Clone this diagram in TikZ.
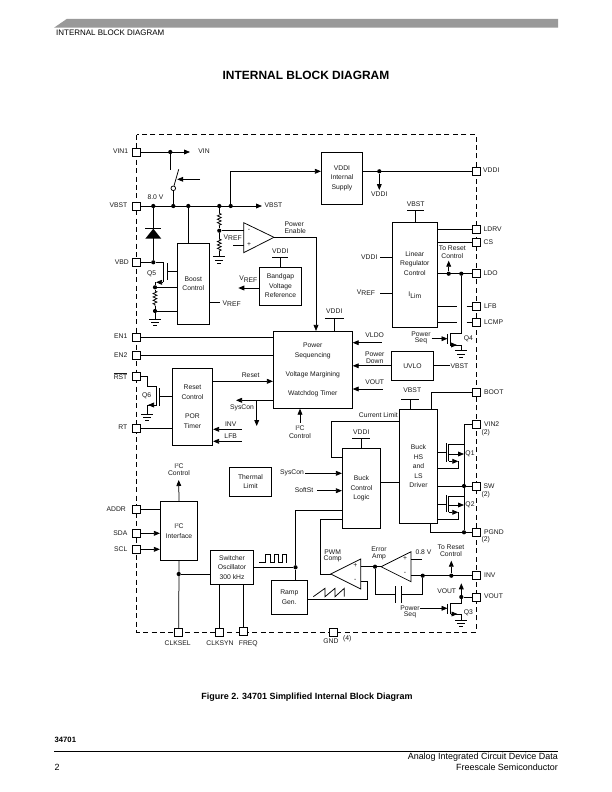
\documentclass[tikz,border=0pt]{standalone}
\usepackage{fontspec}
\setmainfont{Liberation Sans}
\usetikzlibrary{arrows.meta,decorations.pathmorphing}
\newcounter{tn}
\newcommand\fs{\fontsize{6.8}{9.6}\selectfont}
\newcommand\VREF{V\raisebox{-1.6bp}{REF}}
\newcommand\ILim{I\raisebox{-1.6bp}{Lim}}
\newcommand\Isq{I\raisebox{2bp}{\fontsize{4.2}{4.2}\selectfont 2}C}
\newcommand\Tx[4][center]{\stepcounter{tn}\node[lbl,anchor=#1] (t\thetn) at (#2,#3) {#4};}
\newcommand\Pin[3]{\node[pinbox] (#1) at (#2,#3) {};}
\newcommand\Dt[3]{\node[jdot] (#1) at (#2,#3) {};}
\newcommand\Cc[3]{\coordinate (#1) at (#2,#3);}
\newcommand\Blk[6]{\pgfmathsetmacro\bw{#4-#2}\pgfmathsetmacro\bh{#5-#3}%
  \node[blk,minimum width=\bw bp,minimum height=\bh bp] (#1) at ({(#2+#4)/2},{(#3+#5)/2}) {#6};}
\newcommand\Gnd[3]{\coordinate (#1) at (#2,#3);
  \draw[wire] ([xshift=-6bp]#1) -- ([xshift=6bp]#1);
  \draw[wire] ([xshift=-4bp,yshift=-3.2bp]#1) -- ([xshift=4bp,yshift=-3.2bp]#1);
  \draw[wire] ([xshift=-2bp,yshift=-6.4bp]#1) -- ([xshift=2bp,yshift=-6.4bp]#1);}
\newcommand\Bar[4]{\coordinate (#1) at (#2,#3);
  \draw[wire] ([xshift=-#4 bp]#1) -- ([xshift=#4 bp]#1);}
\tikzset{
  wire/.style={draw=black,line width=0.75bp,line cap=butt},
  arr/.style={wire,-{Triangle[length=6bp,width=4.8bp]}},
  blk/.style={draw=black,line width=0.75bp,fill=white,inner sep=0pt,align=center,font=\fs,text=black!90},
  lbl/.style={inner sep=0pt,font=\fs,align=center,text=black!90},
  pinbox/.style={draw=black,line width=0.75bp,fill=white,minimum size=8bp,inner sep=0pt},
  jdot/.style={circle,fill=black,inner sep=0pt,minimum size=4.2bp},
  res/.style={wire,decorate,decoration={zigzag,segment length=3.4bp,amplitude=1.9bp}},
}
\begin{document}
\begin{tikzpicture}[x=1bp,y=-1bp]
\useasboundingbox (0,0) rectangle (612,792);
\fill[white] (0,0) rectangle (612,792);
% page furniture
\coordinate (bA) at (54,27.7);\coordinate (bB) at (66.7,19);\coordinate (bC) at (558,19);\coordinate (bD) at (558,27.7);
\fill[black!40] (bA) -- (bB) -- (bC) -- (bD) -- cycle;
\node[inner sep=0pt,anchor=west,font=\fontsize{8}{9}\selectfont] (hdr) at (56,33) {INTERNAL BLOCK DIAGRAM};
\node[inner sep=0pt,font=\bfseries\fontsize{12}{14}\selectfont] (title) at (306,75) {INTERNAL BLOCK DIAGRAM};
\node[inner sep=0pt,font=\bfseries\fontsize{9}{10}\selectfont] (cap) at (307,697) {Figure 2. 34701 Simplified Internal Block Diagram};
\node[inner sep=0pt,anchor=west,font=\bfseries\fontsize{7.7}{8}\selectfont] (pn) at (54.5,740) {34701};
\coordinate (rL) at (54,751.5);\coordinate (rR) at (558,751.5);
\draw[line width=1.2bp] (rL) -- (rR);
\node[inner sep=0pt,anchor=east,font=\fontsize{9}{10}\selectfont] (f1) at (558,757.5) {Analog Integrated Circuit Device Data};
\node[inner sep=0pt,anchor=east,font=\fontsize{9}{10}\selectfont] (f2) at (558,767.5) {Freescale Semiconductor};
\node[inner sep=0pt,anchor=west,font=\fontsize{9}{10}\selectfont] (pg) at (54.5,767.5) {2};
% dashed frame
\coordinate (fA) at (136.7,134.5);\coordinate (fB) at (476,632);
\draw[line width=0.75bp,dash pattern=on 5bp off 3.4bp] (fA) rectangle (fB);
% blocks
\Blk{bVDDI}{321.3}{152.3}{362.7}{204.3}{VDDI\\Internal\\Supply}
\Blk{bBoost}{177.3}{243.3}{209.3}{324.3}{Boost\\Control}
\Blk{bBand}{259.3}{267}{301.7}{305}{Bandgap\\Voltage\\Reference}
\Blk{bLin}{392.3}{222.3}{437.3}{327.3}{Linear\\Regulator\\Control\\[12bp]\ILim}
\Blk{bPS}{273.3}{331.3}{352.3}{408.3}{Power\\Sequencing\\[9.6bp]Voltage Margining\\[9.6bp]Watchdog Timer}
\Blk{bUV}{391.3}{351.3}{433.7}{380.3}{UVLO}
\Blk{bRes}{172.3}{368.3}{212.7}{445.3}{Reset\\Control\\[9.6bp]POR\\Timer}
\Blk{bTh}{229.3}{467.3}{271.7}{496}{Thermal\\Limit}
\Blk{bI2C}{160.3}{501.3}{197.7}{560.3}{\Isq\\Interface}
\Blk{bOsc}{210.3}{550.3}{253.7}{584.3}{Switcher\\Oscillator\\300 kHz}
\Blk{bRamp}{271.3}{580.3}{307.3}{614.3}{Ramp\\Gen.}
\Blk{bLogic}{342.3}{448.3}{380.7}{528.3}{Buck\\Control\\Logic}
\Blk{bDrv}{399.7}{409.3}{437.3}{523.3}{Buck\\HS\\and\\LS\\Driver}
% pins
\Pin{pVIN}{136}{152}\Pin{pVBST}{136}{206}\Pin{pVBD}{136}{262.3}\Pin{pENa}{136}{337}\Pin{pENb}{136}{355.3}
\Pin{pRST}{136}{376}\Pin{pRT}{136}{428}\Pin{pADDR}{136}{509.3}\Pin{pSDA}{136}{533.3}\Pin{pSCL}{136}{549.3}
\Pin{pCKA}{178.7}{632.5}\Pin{pCKB}{219.3}{632.5}\Pin{pFRQ}{243.3}{631.7}\Pin{pGND}{333.3}{632}
\Pin{pVDD}{476}{171.3}\Pin{pLDRV}{476}{229}\Pin{pCS}{476}{242}\Pin{pLDO}{476}{273.7}\Pin{pLFB}{476}{306.7}\Pin{pLCMP}{476}{322}
\Pin{pBOOT}{476}{392.3}\Pin{pVINb}{476}{424.3}\Pin{pSW}{476}{486}\Pin{pPG}{476}{532.3}\Pin{pINV}{476}{575.7}\Pin{pVOUT}{476}{597}
% pin labels
\Tx[east]{128.3}{151.5}{VIN1}\Tx[east]{127.5}{205.5}{VBST}\Tx[east]{129}{262}{VBD}\Tx[east]{127.5}{336.5}{EN1}\Tx[east]{127.5}{355}{EN2}
\Tx[east]{127.5}{376}{$\overline{\mbox{RST}}$}\Tx[east]{127.5}{427.5}{RT}\Tx[east]{126}{509}{ADDR}\Tx[east]{127.5}{533}{SDA}\Tx[east]{127.5}{549}{SCL}
\Tx{177.7}{643.3}{CLKSEL}\Tx{220}{643.3}{CLKSYN}\Tx{248.3}{643.3}{FREQ}\Tx{331}{641}{GND}\Tx{347.3}{638.7}{(4)}
\Tx[west]{483}{170.5}{VDDI}\Tx[west]{483.5}{229}{LDRV}\Tx[west]{483.5}{242}{CS}\Tx[west]{483.5}{273.5}{LDO}\Tx[west]{484}{306.5}{LFB}\Tx[west]{484}{322}{LCMP}
\Tx[west]{484}{392.3}{BOOT}\Tx[west]{484}{424.3}{VIN2}\Tx[west]{481.5}{432.7}{(2)}\Tx[west]{483.5}{486}{SW}\Tx[west]{481.5}{494.3}{(2)}
\Tx[west]{484}{532}{PGND}\Tx[west]{481.5}{539.5}{(2)}\Tx[west]{484}{575.3}{INV}\Tx[west]{484}{596.5}{VOUT}
% VIN and switch
\Dt{dVIN}{170.3}{152}\Cc{aVIN}{190}{152}\draw[arr] (pVIN) -- (aVIN);\Tx{204}{151.5}{VIN}
\Cc{sTop}{170.3}{170}\draw[wire] (dVIN) -- (sTop);
\node[circle,draw=black,line width=0.75bp,fill=white,inner sep=0pt,minimum size=4.6bp] (sCirc) at (173.3,188.3) {};
\Cc{sBlade}{178.7}{169.3}\draw[wire] (sCirc) -- (sBlade);
\Cc{sCa}{200}{179.3}\Cc{sCb}{177.2}{179.3}\draw[arr] (sCa) -- (sCb);
% VBST rail
\Dt{dA}{153.3}{206}\Dt{dB}{173.3}{206}\Dt{dC}{188.3}{206}\Dt{dD}{219.3}{206}\Dt{dE}{230.7}{206}
\Cc{aVB}{262}{206}\draw[arr] (pVBST) -- (aVB);\Tx{273.5}{205.5}{VBST}\Tx{155.5}{197}{8.0 V}
\draw[wire] (sCirc) -- (dB);
\draw[wire] (dC) -- (dC |- bBoost.north);
\Cc{cSup}{230.7}{171.3}\draw[arr] (dE) -- (cSup) -- (bVDDI.west |- cSup);
% diode
\Dt{dVBD}{153.3}{262.3}\draw[wire] (pVBD) -- (dVBD);\draw[wire] (dA) -- (dVBD);
\Cc{dTip}{153.3}{228.7}\Cc{dL}{145.3}{238.7}\Cc{dR}{161.3}{238.7}\Cc{bL}{145.3}{228.7}\Cc{bR}{161.3}{228.7}
\fill (dTip) -- (dL) -- (dR) -- cycle;\draw[wire] (bL) -- (bR);
% Q5
\Cc{qD}{163.3}{262.3}\Cc{qS}{163.3}{282.3}\draw[wire] (dVBD) -- (qD) -- (qS);
\Cc{qGa}{167.7}{263.3}\Cc{qGb}{167.7}{280}\draw[wire] (qGa) -- (qGb);
\Cc{qG}{167.7}{271.7}\draw[wire] (qG) -- (bBoost.west |- qG);
\Cc{qSe}{155}{282.3}\Dt{dRa}{155}{287.3}\Dt{dRb}{155}{311}
\Cc{qA}{156}{282.3}\draw[arr] (qS) -- (qA);\draw[wire] (qSe) -- (dRa);
\draw[wire] (dRa) -- (bBoost.west |- dRa);\draw[wire] (dRb) -- (bBoost.west |- dRb);
\Cc{rA}{155}{291}\Cc{rB}{155}{306}\draw[wire] (dRa) -- (rA);\draw[res] (rA) -- (rB);\draw[wire] (rB) -- (dRb);
\Gnd{gQa}{155}{319.3}\draw[wire] (dRb) -- (gQa);
\Tx{151.7}{274}{Q5}
% divider and comparator
\Cc{rC}{219.3}{213.3}\Cc{rD}{219.3}{226}\Dt{dMid}{219.3}{230.7}
\draw[wire] (dD) -- (rC);\draw[res] (rC) -- (rD);\draw[wire] (rD) -- (dMid);
\Cc{rE}{219.3}{239}\Cc{rF}{219.3}{251}\draw[wire] (dMid) -- (rE);\draw[res] (rE) -- (rF);
\Gnd{gR}{219.3}{256.7}\draw[wire] (rF) -- (gR);
\Cc{oA}{243.7}{222.7}\Cc{oB}{243.7}{252.7}\Cc{oC}{274}{237.3}
\draw[wire,line join=miter] (oA) -- (oB) -- (oC) -- cycle;
\draw[wire] (dMid) -- (oA |- dMid);
\Cc{oP}{233.3}{245}\draw[wire] (oP) -- (oA |- oP);
\Tx{249}{230.3}{-}\Tx{249}{244.5}{+}\Tx{232.7}{237.5}{\VREF}
\Tx[west]{284.5}{224.3}{Power}\Tx[west]{284.5}{231.5}{Enable}
\Cc{oT}{316}{237.3}\draw[arr] (oC) -- (oT) -- (oT |- bPS.north);
% bandgap
\Bar{bgV}{280.3}{257}{8}\draw[wire] (bgV) -- (bgV |- bBand.north);\Tx{280.3}{251}{VDDI}
\Cc{aBG}{238.3}{288}\draw[arr] (bBand.west |- aBG) -- (aBG);\Tx{248.3}{279}{\VREF}
\Cc{cBV}{220}{302.7}\draw[wire] (bBoost.east |- cBV) -- (cBV);\Tx{231.7}{303.5}{\VREF}
% VDDI supply
\Dt{dVD}{379.3}{171.3}\draw[wire] (bVDDI.east |- pVDD) -- (pVDD);
\Cc{aVD}{379.3}{190}\draw[arr] (dVD) -- (aVD);\Tx{379.3}{194.5}{VDDI}
% linear regulator
\Bar{lrV}{415.7}{210.3}{8.5}\draw[wire] (lrV) -- (lrV |- bLin.north);\Tx{415.7}{204.5}{VBST}
\draw[wire] (bLin.east |- pLDRV) -- (pLDRV);\draw[wire] (bLin.east |- pCS) -- (pCS);
\draw[wire] (bLin.east |- pLDO) -- (pLDO);
\Dt{dLa}{448.7}{273.7}\Dt{dLb}{461.3}{273.7}
\Cc{aLa}{448.7}{260.7}\draw[arr] (dLa) -- (aLa);\Tx{452.3}{248}{To Reset}\Tx{452.3}{256}{Control}
\Cc{lfA}{456.7}{306.7}\Cc{lfB}{466.7}{306.7}\draw[wire] (bLin.east |- lfA) -- (lfA);\draw[wire] (lfB) -- (pLFB);
\Cc{lcA}{456.7}{322}\Cc{lcB}{466.7}{322}\draw[wire] (bLin.east |- lcA) -- (lcA);\draw[wire] (lcB) -- (pLCMP);
\Cc{lvA}{380}{257}\draw[wire] (lvA) -- (bLin.west |- lvA);\Tx{369.3}{257}{VDDI}
\Cc{lrA}{380}{293.3}\draw[wire] (lrA) -- (bLin.west |- lrA);\Tx{366}{292.5}{\VREF}
% Q4
\Cc{q4D}{461.3}{333.3}\Cc{q4c}{450}{333.3}\Cc{q4s}{450}{345}\draw[wire] (dLb) -- (q4D) -- (q4c) -- (q4s);
\Cc{q4a}{447.7}{334}\Cc{q4b}{447.7}{344}\draw[wire] (q4a) -- (q4b);
\Cc{q4g}{431.7}{338.7}\Cc{q4h}{447.5}{338.7}\draw[arr] (q4g) -- (q4h);
\Tx{421}{334}{Power}\Tx{421}{341}{Seq}\Tx{468.3}{338.5}{Q4}
\Cc{q4r}{461}{345}\Cc{q4m}{457}{345}\draw[wire] (q4s) -- (q4r);\draw[arr] (q4s) -- (q4m);
\Gnd{gQb}{461}{350.7}\draw[wire] (q4r) -- (gQb);
% power sequencing
\Bar{psV}{334.3}{318.3}{9.5}\draw[wire] (psV) -- (psV |- bPS.north);\Tx{334.3}{311}{VDDI}
\Cc{pa}{381.7}{342.7}\draw[arr] (pa) -- (bPS.east |- pa);\Tx{374.7}{335.3}{VLDO}
\draw[arr] (bUV.west) -- (bPS.east |- bUV.west);\Tx{374.7}{354}{Power}\Tx{374.7}{361.3}{Down}
\Cc{pb}{383}{389}\draw[arr] (pb) -- (bPS.east |- pb);\Tx{374.7}{382.3}{VOUT}
\Cc{uvR}{450}{365.8}\draw[wire] (bUV.east) -- (uvR);\Tx{459.5}{366}{VBST}
\Cc{psI}{300}{422.7}\draw[arr] (psI) -- (psI |- bPS.south);\Tx{300}{428.5}{\Isq}\Tx{300}{436}{Control}
% enables and reset
\draw[wire] (pENa) -- (bPS.west |- pENa);\draw[wire] (pENb) -- (bPS.west |- pENb);
\Cc{re}{0}{381.3}\draw[arr] (bRes.east |- re) -- (bPS.west |- re);\Tx{250.7}{375.3}{Reset}
\Cc{sc}{236}{400.3}\draw[arr] (bPS.west |- sc) -- (sc);\Tx{242}{408.3}{SysCon}
\Cc{scb}{256.7}{400.3}\Cc{sce}{256.7}{426}\draw[arr] (scb) -- (sce);
\Cc{iv}{241.7}{429.3}\draw[arr] (iv) -- (bRes.east |- iv);\Tx{230.7}{424.3}{INV}
\Cc{lf}{241.7}{441.3}\draw[arr] (lf) -- (bRes.east |- lf);\Tx{230.7}{436}{LFB}
% Q6
\Cc{q6a}{147}{376}\Cc{q6b}{147}{386}\Cc{q6c}{156}{386}\Cc{q6d}{156}{405}\Cc{q6e}{147.3}{405}
\draw[wire] (pRST) -- (q6a) -- (q6b) -- (q6c) -- (q6d) -- (q6e);
\Cc{q6m}{148}{405}\draw[arr] (q6d) -- (q6m);
\Cc{q6f}{159.3}{388.3}\Cc{q6g}{159.3}{405.7}\draw[wire] (q6f) -- (q6g);
\Cc{q6h}{159.3}{396.3}\draw[wire] (q6h) -- (bRes.west |- q6h);
\Gnd{gQc}{147.3}{414.3}\draw[wire] (q6e) -- (gQc);\Tx{146.7}{395.5}{Q6}
\draw[wire] (pRT) -- (bRes.west |- pRT);
% I2C
\Cc{i2t}{178.7}{480}\draw[arr] (bI2C.north) -- (i2t);\Tx{179}{466}{\Isq}\Tx{179}{473.5}{Control}
\draw[wire] (pADDR) -- (bI2C.west |- pADDR);\draw[arr] (pSDA) -- (bI2C.west |- pSDA);\draw[arr] (pSCL) -- (bI2C.west |- pSCL);
\Dt{dCk}{178.7}{574}\draw[wire] (bI2C.south) -- (pCKA);\draw[wire] (dCk) -- (bOsc.west |- dCk);
\draw[wire] (bOsc.south -| pCKB) -- (pCKB);\draw[wire] (bOsc.south -| pFRQ) -- (pFRQ);
% oscillator out
\Dt{dOs}{295.5}{567.3}\draw[wire] (bOsc.east |- dOs) -- (dOs);\draw[wire] (dOs) -- (dOs |- bRamp.north);
\Cc{lgA}{295.5}{510}\draw[wire] (dOs) -- (lgA) -- (bLogic.west |- lgA);
\Cc{w1}{259.3}{562.7}\draw[wire,line join=miter] (w1) -- ++(5.7,0) -- ++(0,-8) -- ++(5,0) -- ++(0,8) -- ++(4,0) -- ++(0,-8) -- ++(4.3,0) -- ++(0,8) -- ++(4.4,0) -- ++(0,-8) -- ++(4,0) -- ++(0,8);
% buck
\Bar{blV}{361.3}{438.3}{9}\draw[wire] (blV) -- (blV |- bLogic.north);\Tx{361.3}{432}{VDDI}
\Cc{cl}{331.3}{421}\Cc{clb}{331.3}{457.3}\draw[wire] (bDrv.west |- cl) -- (cl) -- (clb) -- (bLogic.west |- clb);\Tx{378.3}{415}{Current Limit}
\Cc{sy}{305}{473.3}\draw[arr] (sy) -- (bLogic.west |- sy);\Tx{292}{472.5}{SysCon}
\Cc{so}{317.3}{490.7}\draw[arr] (so) -- (bLogic.west |- so);\Tx{304}{490}{SoftSt}
\Cc{ld}{0}{482.3}\draw[wire] (bLogic.east |- ld) -- (bDrv.west |- ld);
\Bar{drV}{410.3}{399.7}{9}\draw[wire] (drV) -- (drV |- bDrv.north);\Tx{412.3}{390}{VBST}
\Cc{bt}{431.7}{392.3}\draw[wire] (bt |- bDrv.north) -- (bt) -- (pBOOT);
\Cc{lgB}{320.7}{519.3}\Cc{lgC}{320.7}{574}
% Q1, Q2 and rail
\Cc{hv}{464}{424.3}\Cc{hvb}{464}{532.3}\Dt{dSW}{464}{486}\Dt{dPG}{464}{532.3}
\draw[wire] (pVINb) -- (hv) -- (dPG);\draw[wire] (bDrv.east |- pSW) -- (pSW);
\Cc{pgS}{430.3}{532.3}\draw[wire] (pgS |- bDrv.south) -- (pgS) -- (pPG);
\Cc{o1}{446}{443.3}\Cc{o2}{446}{461.7}\draw[wire] (o1) -- (o2);\Cc{o3}{446}{452.3}\draw[wire] (bDrv.east |- o3) -- (o3);
\Cc{o4}{448.5}{444}\Cc{o5}{448.5}{461.3}\Cc{o6}{464}{444}\draw[wire] (o6) -- (o4) -- (o5);
\Cc{o7}{448.5}{454}\Cc{o8}{464}{454}\draw[arr] (o7) -- (o8);\Tx{470}{454}{Q1}
\Cc{o9}{458.3}{461.3}\Cc{oa}{458.3}{468.3}\draw[arr] (o5) -- (o9);\draw[wire] (o9) -- (oa) -- (bDrv.east |- oa);
\Cc{u1}{446}{495}\Cc{u2}{446}{511.7}\draw[wire] (u1) -- (u2);\Cc{u3}{446}{504}\draw[wire] (bDrv.east |- u3) -- (u3);
\Cc{u4}{448.5}{496}\Cc{u5}{448.5}{512.3}\Cc{u6}{464}{496}\draw[wire] (u6) -- (u4) -- (u5);
\Cc{u7}{448.5}{505}\Cc{u8}{464}{505}\draw[arr] (u7) -- (u8);\Tx{470}{505}{Q2}
\Cc{u9}{458.3}{512.3}\Cc{ua}{458.3}{519}\draw[arr] (u5) -- (u9);\draw[wire] (u9) -- (ua) -- (bDrv.east |- ua);
% PWM and error amp
\Cc{pA}{360.7}{559}\Cc{pB}{360.7}{589}\Cc{pC}{330.7}{574}\draw[wire,line join=miter] (pA) -- (pB) -- (pC) -- cycle;
\draw[wire] (bLogic.west |- lgB) -- (lgB) -- (lgC) -- (pC);
\Tx{355.3}{566}{+}\Tx{355.3}{580.5}{-}\Tx{332.7}{551.7}{PWM}\Tx{332.7}{559}{Comp}
\Cc{eA}{411}{551.7}\Cc{eB}{411}{581.7}\Cc{eC}{381}{566.7}\draw[wire,line join=miter] (eA) -- (eB) -- (eC) -- cycle;
\Tx{405}{559}{+}\Tx{405}{573.3}{-}\Tx{379}{549}{Error}\Tx{379}{556.7}{Amp}
\Dt{dEr}{375}{566.7}\draw[wire] (pA |- dEr) -- (eC);
\Cc{pm}{360.7}{581.7}\Cc{pn1}{367.3}{581.7}\Cc{pn2}{367.3}{599}\draw[wire] (pm) -- (pn1) -- (pn2) -- (bRamp.east |- pn2);
\Cc{sw}{313.3}{596.7}\draw[wire,line join=miter] (sw) -- ++(11.7,-8.4) -- ++(0,8.4) -- ++(10,-8.4) -- ++(0,8.4) -- ++(9.3,-8.4) -- ++(0,8.4);
\Dt{dFb}{422.7}{575.7}\Dt{dIn}{451.3}{575.7}
\Cc{fa}{375}{594.3}\Cc{fb}{395.3}{594.3}\Cc{fc}{401.7}{594.3}\Cc{fd}{422.7}{594.3}
\draw[wire] (dEr) -- (fa) -- (fb);\draw[wire] (fc) -- (fd) -- (dFb);
\Cc{ca}{395.3}{586}\Cc{cb}{395.3}{602.7}\Cc{cc}{401.7}{586}\Cc{cd}{401.7}{602.7}\draw[wire] (ca) -- (cb);\draw[wire] (cc) -- (cd);
\Cc{ep}{422.3}{559.7}\draw[wire] (eA |- ep) -- (ep);\Tx{423.5}{552.3}{0.8 V}
\draw[wire] (eA |- pINV) -- (pINV);
\Cc{aIn}{451.3}{560.7}\draw[arr] (dIn) -- (aIn);\Tx{451}{547.3}{To Reset}\Tx{451}{554.5}{Control}
% VOUT, Q3
\Dt{dVo}{461.3}{597}\draw[wire] (pVOUT) -- (dVo);\Cc{aVo}{461.3}{583.3}\draw[arr] (dVo) -- (aVo);\Tx{446.7}{591}{VOUT}
\Cc{q3d}{461.3}{603.7}\Cc{q3c}{450.7}{603.7}\Cc{q3s}{450.7}{614}\draw[wire] (dVo) -- (q3d) -- (q3c) -- (q3s);
\Cc{q3a}{447.7}{604.3}\Cc{q3b}{447.7}{614.3}\draw[wire] (q3a) -- (q3b);
\Cc{q3g}{420}{608.3}\Cc{q3h}{447.5}{608.3}\draw[arr] (q3g) -- (q3h);\Tx{410}{608.3}{Power}\Tx{410}{615.3}{Seq}
\Cc{q3r}{461}{614}\Cc{q3m}{457.5}{614}\draw[wire] (q3s) -- (q3r);\draw[arr] (q3s) -- (q3m);
\Gnd{gQd}{461}{620}\draw[wire] (q3r) -- (gQd);\Tx{468.3}{612.3}{Q3}
\end{tikzpicture}
\end{document}
